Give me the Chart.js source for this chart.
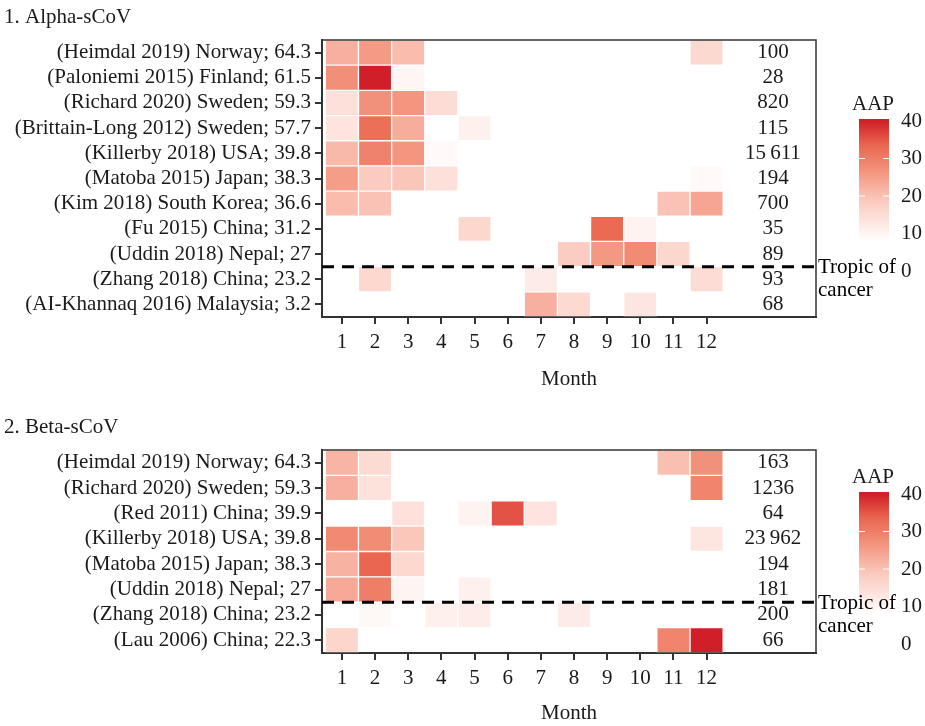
<!DOCTYPE html>
<html>
<head>
<meta charset="utf-8">
<script src="https://cdn.jsdelivr.net/npm/chart.js"></script>
<style>
  body { margin: 0; background: #fff; }
  #wrap { position: relative; width: 925px; height: 726px; }
  canvas { position: absolute; left: 0; }
</style>
</head>
<body>
<div id="wrap">
  <canvas id="alpha" width="925" height="400" style="top:0"></canvas>
  <canvas id="beta" width="925" height="326" style="top:400px"></canvas>
</div>
<script>
const months = [1, 2, 3, 4, 5, 6, 7, 8, 9, 10, 11, 12];
const legendTicks = [40, 30, 20, 10, 0];

// 1. Alpha-sCoV
const alphaStudies = [
  '(Heimdal 2019) Norway; 64.3',
  '(Paloniemi 2015) Finland; 61.5',
  '(Richard 2020) Sweden; 59.3',
  '(Brittain-Long 2012) Sweden; 57.7',
  '(Killerby 2018) USA; 39.8',
  '(Matoba 2015) Japan; 38.3',
  '(Kim 2018) South Korea; 36.6',
  '(Fu 2015) China; 31.2',
  '(Uddin 2018) Nepal; 27',
  '(Zhang 2018) China; 23.2',
  '(AI-Khannaq 2016) Malaysia; 3.2'
];
const alphaN = ['100', '28', '820', '115', '15\u2009611', '194', '700', '35', '89', '93', '68'];
// AAP per month (Jan..Dec), null = no cell
const alphaAAP = [
  [22.5, 25.7, 20.8, null, null, null, null, null, null, null, null, 15.7],
  [27.3, 40, 9.8, null, null, null, null, null, null, null, null, null],
  [14.3, 27, 26.5, 15.1, null, null, null, null, null, null, null, null],
  [13.5, 32.3, 22.9, null, 11, null, null, null, null, null, null, null],
  [21.2, 29.3, 26.5, 9, null, null, null, null, null, null, null, null],
  [25.3, 18.6, 19.3, 14.3, null, null, null, null, null, null, null, 9],
  [20.8, 19.9, null, null, null, null, null, null, null, null, 19.9, 24.1],
  [null, null, null, null, 16.1, null, null, null, 33, 10.4, null, null],
  [null, null, null, null, null, null, null, 18.1, 26, 28, 16.1, null],
  [null, 16, null, null, null, null, 12, null, null, null, null, 15.1],
  [null, null, null, null, null, null, 22.5, 15.5, null, 13, null, null]
];

// 2. Beta-sCoV
const betaStudies = [
  '(Heimdal 2019) Norway; 64.3',
  '(Richard 2020) Sweden; 59.3',
  '(Red 2011) China; 39.9',
  '(Killerby 2018) USA; 39.8',
  '(Matoba 2015) Japan; 38.3',
  '(Uddin 2018) Nepal; 27',
  '(Zhang 2018) China; 23.2',
  '(Lau 2006) China; 22.3'
];
const betaN = ['163', '1236', '64', '23\u2009962', '194', '181', '200', '66'];
const betaAAP = [
  [21.9, 15.3, null, null, null, null, null, null, null, null, 20.2, 27],
  [22.5, 14, null, null, null, null, null, null, null, null, null, 29],
  [null, null, 14.1, null, 10.4, 35.3, 13.5, null, null, null, null, null],
  [28.2, 27.8, 19.2, null, null, null, null, null, null, null, null, 13.1],
  [22.2, 33.6, 16, null, null, null, null, null, null, null, null, null],
  [23.6, 30, 10.2, null, 11, null, null, null, null, null, null, null],
  [null, 9.4, null, 11, 11.8, null, null, 12, null, null, null, null],
  [16.6, null, null, null, null, null, null, null, null, null, 29, 40]
];

const FAMILY = '"Liberation Serif", serif';
const SIZE = 21;
const FONT = SIZE + 'px ' + FAMILY;
const TEXT = '#1a1a1a';
const AAP_MIN = 8, AAP_MAX = 40;
const stops = [[0, [255, 255, 255]], [0.33, [251, 203, 191]], [0.6, [242, 144, 121]], [0.8, [234, 102, 80]], [1, [208, 31, 40]]];

function aapColor(v) {
  const t = Math.max(0, Math.min(1, (v - AAP_MIN) / (AAP_MAX - AAP_MIN)));
  for (let i = 1; i < stops.length; i++) {
    if (t <= stops[i][0]) {
      const [t0, c0] = stops[i - 1], [t1, c1] = stops[i];
      const f = (t - t0) / (t1 - t0);
      const c = c0.map((x, k) => Math.round(x + (c1[k] - x) * f));
      return `rgb(${c[0]},${c[1]},${c[2]})`;
    }
  }
  return 'rgb(208,31,40)';
}

function buildDatasets(matrix) {
  return months.map((m, j) => ({
    label: 'M' + m,
    data: matrix.map(row => row[j] == null ? null : [m - 0.5, m + 0.5]),
    backgroundColor: matrix.map(row => aapColor(row[j] == null ? 0 : row[j])),
    borderColor: '#fff',
    borderWidth: 1,
    borderSkipped: false,
    grouped: false,
    categoryPercentage: 1,
    barPercentage: 1
  }));
}

const extras = {
  id: 'extras',
  afterDraw(chart, args, o) {
    const { ctx, chartArea: a, scales: { x, y } } = chart;
    ctx.save();
    ctx.strokeStyle = '#333';
    ctx.lineWidth = 1.5;
    ctx.strokeRect(a.left, a.top, a.right - a.left, a.bottom - a.top);

    ctx.font = FONT;
    ctx.fillStyle = TEXT;
    ctx.textBaseline = 'middle';
    ctx.textAlign = 'center';
    o.n.forEach((t, i) => ctx.fillText(t, x.getPixelForValue(14), y.getPixelForValue(i)));

    // tropic of cancer
    const ty = (y.getPixelForValue(o.tropicAfter) + y.getPixelForValue(o.tropicAfter + 1)) / 2;
    ctx.setLineDash([12, 8]);
    ctx.lineWidth = 3;
    ctx.strokeStyle = '#000';
    ctx.beginPath();
    ctx.moveTo(a.left, ty);
    ctx.lineTo(a.right, ty);
    ctx.stroke();
    ctx.setLineDash([]);

    // colour bar
    const mid = (a.top + a.bottom) / 2;
    const ly = v => mid - 57.5 + (40 - v) * 3.75;
    const g = ctx.createLinearGradient(0, ly(AAP_MAX), 0, ly(AAP_MIN));
    stops.forEach(([t, c]) => g.addColorStop(1 - t, `rgb(${c[0]},${c[1]},${c[2]})`));
    ctx.fillStyle = g;
    ctx.fillRect(859, ly(AAP_MAX) - 2, 30, ly(AAP_MIN) - ly(AAP_MAX) + 2);
    ctx.strokeStyle = '#fff';
    ctx.lineWidth = 1;
    [30, 20].forEach(v => {
      ctx.beginPath();
      ctx.moveTo(859, ly(v)); ctx.lineTo(865, ly(v));
      ctx.moveTo(883, ly(v)); ctx.lineTo(889, ly(v));
      ctx.stroke();
    });
    ctx.fillStyle = TEXT;
    ctx.textAlign = 'left';
    legendTicks.forEach(v => ctx.fillText(String(v), 901, ly(v)));
    ctx.textAlign = 'center';
    ctx.fillText('AAP', 873, ly(40) - 17);

    ctx.fillStyle = '#000';
    ctx.textAlign = 'left';
    ctx.fillText('Tropic of', a.right + 2, ty + 1);
    ctx.fillText('cancer', a.right + 2, ty + 24);

    ctx.fillStyle = TEXT;
    ctx.fillText(o.title, 4, o.titleY);
    ctx.textAlign = 'center';
    ctx.fillText('Month', (a.left + a.right) / 2, a.bottom + o.monthDy);
    ctx.restore();
  }
};

function makeChart(id, studies, matrix, n, opts) {
  return new Chart(document.getElementById(id), {
    type: 'bar',
    data: { labels: studies, datasets: buildDatasets(matrix) },
    options: {
      indexAxis: 'y',
      responsive: false,
      animation: false,
      layout: { padding: { top: opts.top, right: 109, left: 0, bottom: 0 } },
      scales: {
        x: {
          type: 'linear',
          min: 0.4,
          max: 15.3,
          afterBuildTicks: s => { s.ticks = months.map(v => ({ value: v })); },
          afterFit: s => { s.height = opts.xHeight; },
          ticks: { font: { family: FAMILY, size: SIZE }, color: TEXT, padding: 6, autoSkip: false, maxRotation: 0, callback: v => v },
          grid: { drawOnChartArea: false, drawTicks: true, tickLength: 7, color: '#333', lineWidth: 2 },
          border: { display: true, color: '#333', width: 2 }
        },
        y: {
          afterFit: s => { s.width = 322; },
          ticks: { font: { family: FAMILY, size: SIZE }, color: TEXT, padding: 4, autoSkip: false },
          grid: { offset: false, drawOnChartArea: false, drawTicks: true, tickLength: 7, color: '#333', lineWidth: 2 },
          border: { display: true, color: '#333', width: 2 }
        }
      },
      plugins: {
        legend: { display: false },
        tooltip: { enabled: false },
        extras: { n: n, tropicAfter: opts.tropicAfter, title: opts.title, titleY: opts.titleY, monthDy: opts.monthDy }
      }
    },
    plugins: [extras]
  });
}

makeChart('alpha', alphaStudies, alphaAAP, alphaN,
  { top: 40, xHeight: 83, tropicAfter: 8, title: '1. Alpha-sCoV', titleY: 17, monthDy: 62 });
makeChart('beta', betaStudies, betaAAP, betaN,
  { top: 50, xHeight: 73, tropicAfter: 5, title: '2. Beta-sCoV', titleY: 27, monthDy: 60 });
</script>
</body>
</html>
